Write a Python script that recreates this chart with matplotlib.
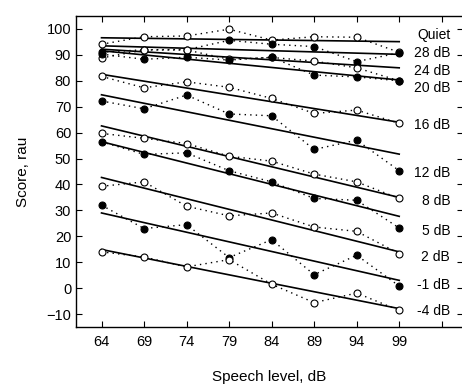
import numpy as np
import matplotlib
matplotlib.use("Agg")
import matplotlib.pyplot as plt

plt.rcParams['font.family'] = ['Liberation Sans', 'DejaVu Sans']

# Úrovně řeči (dB)
levels = [64, 69, 74, 79, 84, 89, 94, 99]

# Podmínky (odstup signálu od šumu) a typ značky
conditions = ["Quiet", "28 dB", "24 dB", "20 dB", "16 dB", "12 dB",
              "8 dB", "5 dB", "2 dB", "-1 dB", "-4 dB"]
filled = [False, True, False, True, False, True, False, True, False, True, False]

# Naměřené skóre (rau)
score_quiet = [94.1, 97.0, 97.3, 99.9, 95.7, 97.0, 96.8, 91.0]
score_28 = [91.0, 92.0, 92.0, 95.6, 94.1, 93.2, 87.4, 90.8]
score_24 = [88.8, 91.9, 91.9, 88.3, 89.0, 87.6, 85.0, 80.0]
score_20 = [90.3, 88.3, 89.1, 88.0, 89.1, 82.2, 81.5, 80.0]
score_16 = [81.7, 77.3, 79.6, 77.5, 73.2, 67.4, 68.7, 63.6]
score_12 = [72.2, 69.2, 74.5, 67.2, 66.5, 53.5, 57.1, 45.3]
score_8 = [59.7, 57.8, 55.8, 50.9, 49.0, 44.0, 41.0, 34.6]
score_5 = [56.5, 51.6, 52.2, 45.3, 41.0, 34.6, 33.9, 23.2]
score_2 = [39.3, 41.0, 31.6, 27.9, 29.0, 23.6, 21.9, 13.3]
score_m1 = [32.0, 23.0, 24.5, 11.8, 18.7, 5.2, 12.7, 0.8]
score_m4 = [14.0, 12.0, 8.2, 11.0, 1.5, -5.6, -1.9, -8.6]
scores = [score_quiet, score_28, score_24, score_20, score_16, score_12,
          score_8, score_5, score_2, score_m1, score_m4]

# Regresní přímky: hodnota na 64 dB a na 99 dB
fit_start = [96.6, 93.5, 92.2, 91.6, 82.5, 74.6, 62.6, 56.5, 42.7, 29.0, 14.9]
fit_end = [95.1, 90.2, 85.0, 80.3, 64.0, 51.7, 35.0, 27.7, 14.0, 3.0, -7.9]

# Svislá poloha popisků vpravo
label_y = [97.7, 90.8, 83.9, 77.2, 62.9, 44.5, 33.7, 21.9, 12.0, 1.1, -8.8]

fig = plt.figure(figsize=(4.62, 3.86), dpi=100)
ax = fig.add_axes([76 / 462, 1 - 327 / 386, 387 / 462, 311 / 386])

for i, name in enumerate(conditions):
    face = 'black' if filled[i] else 'white'
    # Tečkovaná spojnice naměřených bodů
    ax.plot(levels, scores[i], color='black', linestyle=(0, (1, 3)), linewidth=1.0,
            marker='o', markersize=5, markerfacecolor=face, markeredgecolor='black',
            markeredgewidth=0.8, zorder=3 + i * 0.1)
    # Regresní přímka
    ax.plot([levels[0], levels[-1]], [fit_start[i], fit_end[i]], color='black',
            linewidth=1.2, zorder=2)
    ax.text(105.0, label_y[i], name, ha='right', va='center', fontsize=10)

ax.set_xlim(61, 106.5)
ax.set_ylim(-15, 105)
ax.set_xticks(levels + [104])
ax.set_xticklabels([str(v) for v in levels] + [""])
ax.set_yticks(np.arange(-10, 101, 10))
ax.tick_params(direction='in', top=True, right=True, length=4.5, width=0.8,
               labelsize=10.5)
ax.tick_params(axis='x', pad=6)
ax.set_xlabel("Speech level, dB", fontsize=11, labelpad=15)
ax.set_ylabel("Score, rau", fontsize=11, labelpad=12)
for s in ax.spines.values():
    s.set_linewidth(1.0)

fig.savefig("out.png", dpi=100)
